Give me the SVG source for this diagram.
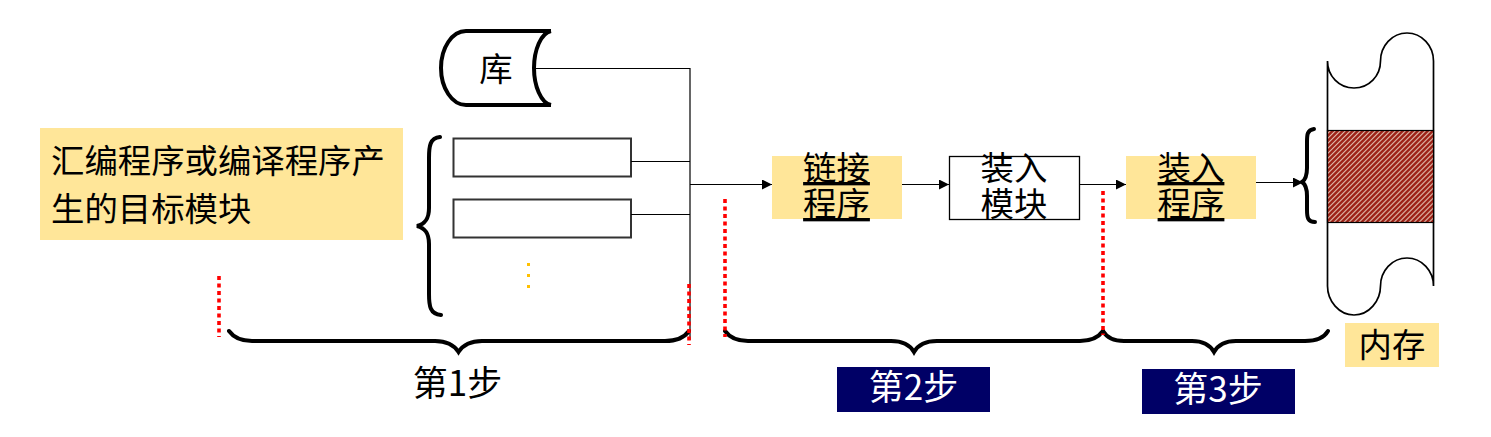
<svg xmlns="http://www.w3.org/2000/svg" width="1491" height="437" viewBox="0 0 1491 437">
<style>
text{font-family:"Noto Sans CJK SC","Noto Sans",sans-serif;font-size:33.4px;fill:#000}
.m{text-anchor:middle}
.u{text-decoration:underline}
.s{font-size:35px}
.w{fill:#fff}
.y{fill:#FFE699}
.n{fill:#000066}
.b{fill:none;stroke:#000;stroke-width:4;stroke-linecap:round}
.box{fill:#fff;stroke:#333;stroke-width:2}
.c{fill:none;stroke:#000;stroke-width:1.2}
.r{fill:none;stroke:#f00;stroke-width:3.600;stroke-dasharray:4 3.5}
.o{stroke:#000;stroke-width:1.7;fill:none}
</style>
<defs>
<marker id="a" markerUnits="userSpaceOnUse" markerWidth="11" markerHeight="11" refX="10" refY="5" orient="auto"><path d="M0 0L10 5L0 10Z" fill="#000"/></marker>
<pattern id="h" width="3.540" height="3.540" patternUnits="userSpaceOnUse" patternTransform="rotate(45)"><rect width="3.540" height="3.540" fill="#e8cdbd"/><rect width="2.500" height="3.540" fill="#9c1f14"/></pattern>
</defs>
<g id="label-obj"><rect class="y" x="40" y="128" width="363" height="112"/><text><tspan x="51" y="173">汇编程序或编译程序产</tspan><tspan x="51" y="221">生的目标模块</tspan></text></g>
<g id="lib"><path d="M551 31H466C452 31 441 48 441 68C441 88 452 105 466 105H551" fill="none" stroke="#000" stroke-width="4"/><path d="M551 31C541 33 534 50 534 68C534 86 541 103 551 105" fill="none" stroke="#000" stroke-width="4"/><text class="m" x="496" y="81">库</text></g>
<g id="mod1"><rect class="box" x="453.500" y="138.500" width="177.500" height="38"/></g>
<g id="mod2"><rect class="box" x="453.500" y="199.500" width="177.500" height="38"/></g>
<g id="mods-brace"><path class="b" d="M440 137C430 138 429 146 429 158V208C429 219 425 224 417 226C425 228 429 233 429 244V294C429 306 430 314 441 315"/></g>
<g id="dots" fill="#FFC000"><rect x="527" y="263" width="3" height="3"/><rect x="527" y="274" width="3" height="3"/><rect x="527" y="285" width="3" height="3"/></g>
<g id="connectors">
<path class="c" d="M534 68.500H690M631 161.500H690M631 214.500H690M690 68V340"/>
<path class="c" d="M690 184.500H772" marker-end="url(#a)"/>
<path class="c" d="M902 184.500H949" marker-end="url(#a)"/>
<path class="c" d="M1080 184.500H1126" marker-end="url(#a)"/>
<path class="c" d="M1256 182.500H1303" marker-end="url(#a)"/>
</g>
<g id="link"><rect class="y" x="772" y="156" width="130" height="63"/><text class="m u"><tspan x="836.500" y="180">链接</tspan><tspan x="836.500" y="216">程序</tspan></text></g>
<g id="load-mod"><rect x="949.500" y="156.500" width="130" height="63" fill="#fff" stroke="#000" stroke-width="1.300"/><text class="m"><tspan x="1014" y="180">装入</tspan><tspan x="1014" y="216">模块</tspan></text></g>
<g id="loader"><rect class="y" x="1126" y="156" width="130" height="63"/><text class="m u"><tspan x="1191" y="180">装入</tspan><tspan x="1191" y="216">程序</tspan></text></g>
<g id="memory"><path class="o" d="M1327.500 61C1327.500 76 1339 88 1354 88C1369 88 1380.500 76 1380.500 61C1380.500 46 1392 33 1407 33C1422 33 1433.500 46 1433.500 61V286C1433.500 271 1422 258 1407 258C1392 258 1380.500 271 1380.500 286C1380.500 301 1369 315 1354 315C1339 315 1327.500 301 1327.500 286Z"/><rect x="1327.500" y="130.500" width="106" height="92" fill="url(#h)" stroke="#000" stroke-width="1.200"/></g>
<g id="mem-brace"><path class="b" d="M1314 129C1307 130 1307 135 1307 142V168C1307 176 1305 180 1302 182C1305 184 1307 188 1307 196V210C1307 218 1308 222 1315 222"/></g>
<g id="mem-label"><rect class="y" x="1345" y="323" width="94" height="44"/><text class="m" x="1392" y="357">内存</text></g>
<g id="b1"><path class="b" d="M229 331C234 338 242 341 252 341H435C446 341 454 345 458.500 352C463 345 471 341 482 341H665C676 341 684 338 689 331"/></g>
<g id="b2"><path class="b" d="M725 331C730 338 738 341 748 341H891C902 341 910 345 914 352C918 345 926 341 937 341H1080C1091 341 1098 338 1103 331"/></g>
<g id="b3"><path class="b" d="M1103 331C1107 338 1114 341 1124 341H1192C1202 341 1210 345 1214 352C1218 345 1226 341 1236 341H1305C1316 341 1324 338 1328 331"/></g>
<g id="guides"><path class="r" d="M219 276V337M689 284V345M725 199V337M1103 191V335"/></g>
<g id="s1"><text class="m s" x="457.500" y="396">第1步</text></g>
<g id="s2"><rect class="n" x="837" y="367" width="153" height="45"/><text class="m w s" x="913.500" y="400">第2步</text></g>
<g id="s3"><rect class="n" x="1142" y="369" width="153" height="45"/><text class="m w s" x="1218" y="402">第3步</text></g>
</svg>
